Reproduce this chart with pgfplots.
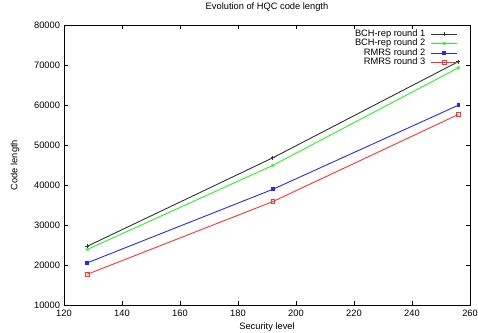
\documentclass[border=0pt]{standalone}
\usepackage{fontspec}
\setmainfont{Liberation Sans}
\usepackage{pgfplots}
\pgfplotsset{compat=1.18}
\definecolor{lgreen}{RGB}{40,240,40}
\definecolor{lblue}{RGB}{40,40,255}
\definecolor{lred}{RGB}{255,50,50}
\definecolor{dgray}{RGB}{50,50,50}
\begin{document}
\begin{tikzpicture}[x=1pt,y=1pt]
\useasboundingbox (0,0) rectangle (478,332);
\begin{axis}[
 at={(64pt,27pt)}, anchor=south west,
 scale only axis, width=406pt, height=280pt,
 xmin=120, xmax=260, ymin=10000, ymax=80000,
 xtick={120,140,...,260}, ytick={10000,20000,...,80000},
 scaled ticks=false,
 /pgf/number format/assume math mode=true,
 /pgf/number format/1000 sep={},
 tick align=inside, major tick length=4pt,
 tick style={black, line width=0.6pt},
 axis line style={line width=0.8pt},
 font=\fontsize{9.3}{11}\selectfont,
 title={Evolution of HQC code length},
 title style={at={(0.5,1.044)}, anchor=center},
 xlabel={Security level},
 xlabel style={at={(axis description cs:0.5,-0.08)}, anchor=center},
 ylabel={Code length},
 ylabel style={at={(axis description cs:-0.1207,0.5)}, anchor=center, rotate=0},
 xticklabel style={yshift=-1pt},
 yticklabel style={xshift=-0.5pt},
 legend style={draw=none, fill=none, at={(0.9704,0.9857)}, anchor=north east, inner sep=0pt, row sep=0pt, column sep=5pt,
   nodes={inner sep=0.4pt, text height=6.7pt, text depth=2pt},
   font=\fontsize{9.3}{11}\selectfont},
 legend cell align=right,
 legend plot pos=right,
 legend image code/.code={\draw[mark repeat=2,mark phase=2,#1] plot coordinates {(0cm,0cm) (0.46cm,0cm) (0.92cm,0cm)};},
]
\addplot[dgray, line width=0.9pt, mark=+, mark size=2pt] coordinates {(128,24677) (192,46800) (256,70853)};
\addlegendentry{BCH-rep round 1}
\addplot[lgreen, line width=0.9pt, mark=x, mark size=1.8pt] coordinates {(128,23869) (192,44900) (256,69300)};
\addlegendentry{BCH-rep round 2}
\addplot[lblue, line width=0.9pt, mark=square*, mark size=1.4pt] coordinates {(128,20533) (192,38923) (256,59957)};
\addlegendentry{RMRS round 2}
\addplot[lred, line width=0.9pt, mark=square, mark size=1.8pt] coordinates {(128,17669) (192,35851) (256,57637)};
\addlegendentry{RMRS round 3}
\end{axis}
\end{tikzpicture}
\end{document}
